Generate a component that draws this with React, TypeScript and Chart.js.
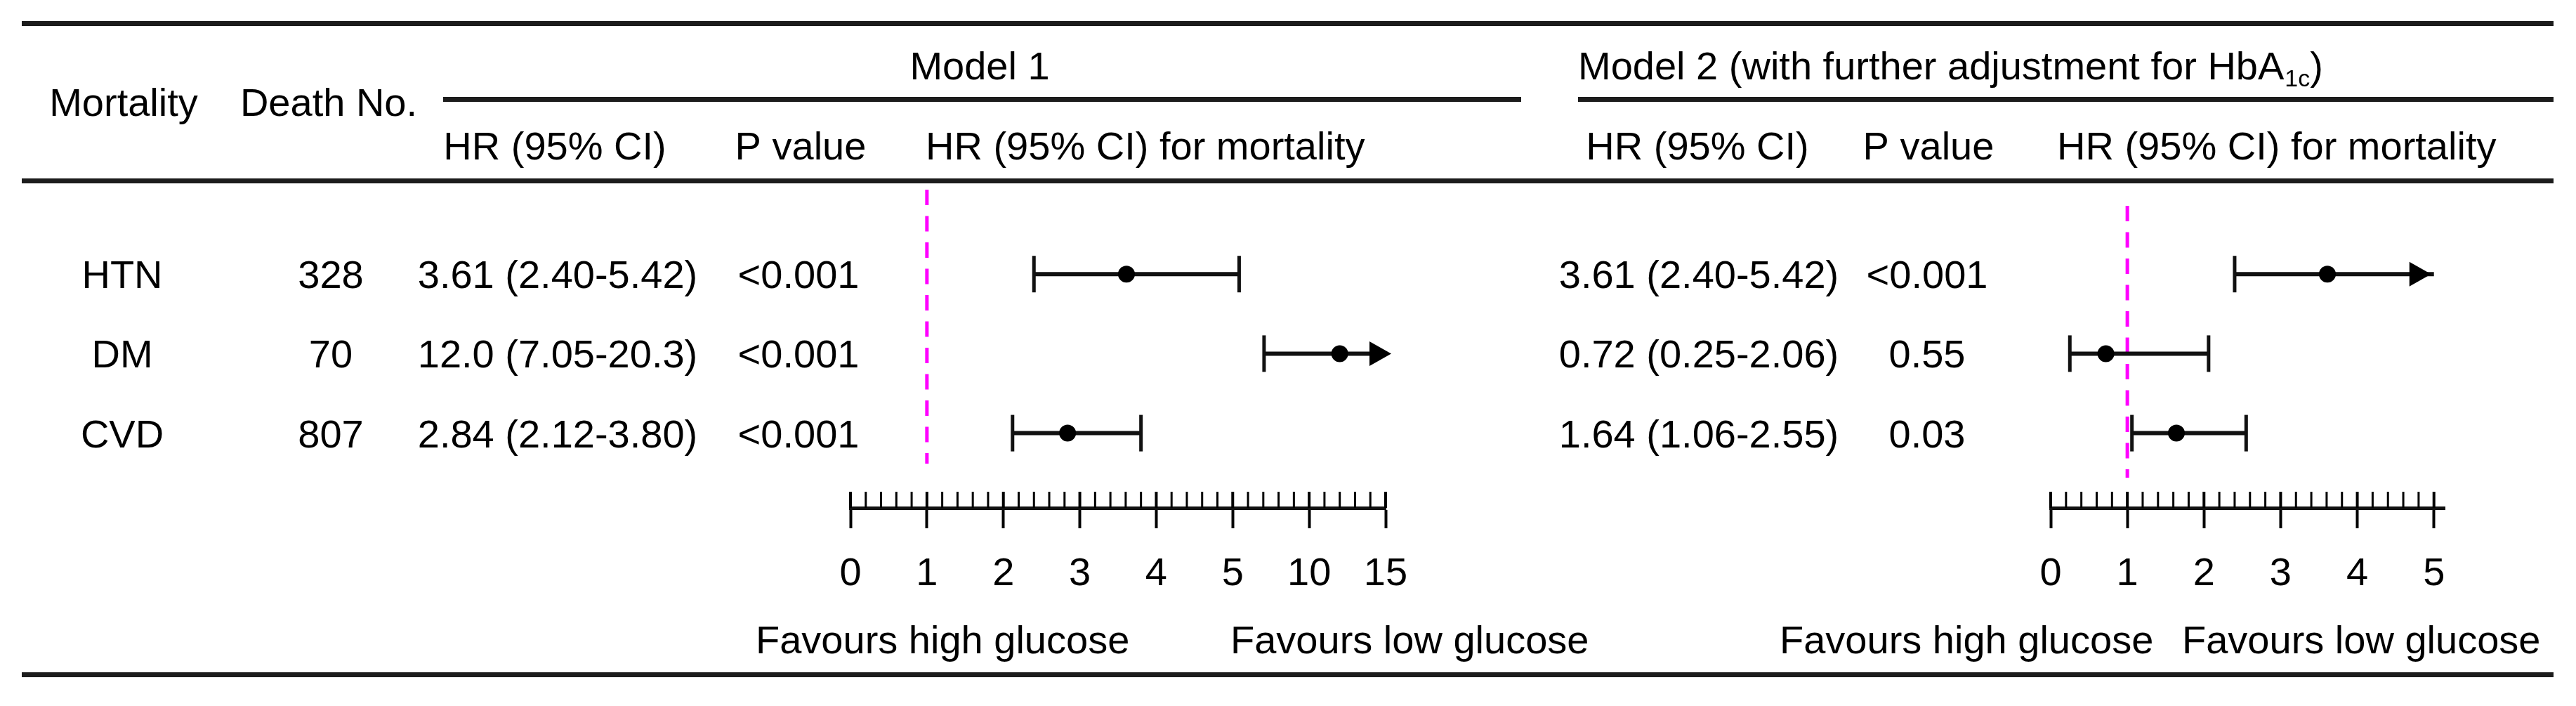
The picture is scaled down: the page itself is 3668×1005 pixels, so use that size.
import React, { useEffect, useRef } from "react";
import { Chart, registerables } from "chart.js";

Chart.register(...registerables);

// ---------------- data ----------------
const OUTCOMES = ["HTN", "DM", "CVD"];
const DEATH_NO = ["328", "70", "807"];

const M1_HR = [3.61, 12.0, 2.84];
const M1_LOW = [2.4, 7.05, 2.12];
const M1_HIGH = [5.42, 20.3, 3.8];
const M1_P = ["<0.001", "<0.001", "<0.001"];

const M2_HR = [3.61, 0.72, 1.64];
const M2_LOW = [2.4, 0.25, 1.06];
const M2_HIGH = [5.42, 2.06, 2.55];
const M2_P = ["<0.001", "0.55", "0.03"];

const M1_TICKS = [0, 1, 2, 3, 4, 5, 10, 15];
const M2_TICKS = [0, 1, 2, 3, 4, 5];
const REF_HR = 1;

// ---------------- style / layout ----------------
const FONT = '"Liberation Sans", Arial, Helvetica, sans-serif';
const FS = 56;
const INK = "#000";
const RULE = "#1c1c1c";
const W = 3668;
const H = 1005;
const AREA_TOP = 277;
const AREA_BOTTOM = 723;
const Y_MIN = -1;
const Y_MAX = 2.94;
const AXIS_H = 130;

const fmt = (v: number) => (v >= 10 ? v.toFixed(1) : v.toFixed(2));
const hrText = (hr: number, lo: number, hi: number) => `${fmt(hr)} (${fmt(lo)}-${fmt(hi)})`;

// map an HR value onto the equally spaced tick index axis
function toAxis(v: number, ticks: number[]) {
  const n = ticks.length - 1;
  if (v >= ticks[n]) return n;
  for (let i = 0; i < n; i++) {
    if (v <= ticks[i + 1]) return i + (v - ticks[i]) / (ticks[i + 1] - ticks[i]);
  }
  return n;
}

type ForestParams = {
  hr: number[];
  lo: number[];
  hi: number[];
  ticks: number[];
  padLeft: number;
  padRight: number;
  xMax: number;
  refTop: number;
  refBottom: number;
  tipOffset: number;
};

function forestConfig(p: ForestParams): any {
  const last = p.ticks.length - 1;
  const rows = p.hr.map((_, i) => i);
  const points = rows.map((i) => ({ x: toAxis(p.hr[i], p.ticks), y: i }));
  const caps: { x: number; y: number }[] = [];
  rows.forEach((i) => {
    caps.push({ x: toAxis(p.lo[i], p.ticks), y: i });
    if (p.hi[i] <= p.ticks[last]) caps.push({ x: toAxis(p.hi[i], p.ticks), y: i });
  });
  const lineSets = rows.map((i) => ({
    data: [
      { x: toAxis(p.lo[i], p.ticks), y: i },
      { x: toAxis(p.hi[i], p.ticks), y: i },
    ],
    showLine: true,
    borderColor: "#111",
    borderWidth: 6,
    pointRadius: 0,
    pointHoverRadius: 0,
    clip: false,
  }));

  const decor = {
    id: "forestDecor",
    beforeDatasetsDraw(chart: any) {
      const { ctx, chartArea } = chart;
      const xs = chart.scales.x;
      const x = xs.getPixelForValue(toAxis(REF_HR, p.ticks));
      ctx.save();
      ctx.strokeStyle = "#FF00FF";
      ctx.lineWidth = 5;
      ctx.setLineDash([22, 15.5]);
      ctx.beginPath();
      ctx.moveTo(x, chartArea.top + p.refTop);
      ctx.lineTo(x, chartArea.bottom + p.refBottom);
      ctx.stroke();
      ctx.restore();
    },
    afterDraw(chart: any) {
      const { ctx, chartArea } = chart;
      const xs = chart.scales.x;
      const ys = chart.scales.y;
      const y0 = chartArea.bottom;
      ctx.save();
      ctx.strokeStyle = INK;
      for (let k = 0; k <= last * 5; k++) {
        const x = xs.getPixelForValue(k / 5);
        ctx.lineWidth = k % 5 === 0 ? 4 : 3;
        ctx.beginPath();
        ctx.moveTo(x, y0);
        ctx.lineTo(x, y0 - 23);
        ctx.stroke();
      }
      // arrows for intervals running beyond the axis
      ctx.fillStyle = INK;
      rows.forEach((i) => {
        if (p.hi[i] > p.ticks[last]) {
          const tip = xs.getPixelForValue(last) + p.tipOffset;
          const y = ys.getPixelForValue(i);
          ctx.beginPath();
          ctx.moveTo(tip, y);
          ctx.lineTo(tip - 31, y - 17.5);
          ctx.lineTo(tip - 31, y + 17.5);
          ctx.closePath();
          ctx.fill();
        }
      });
      ctx.restore();
    },
  };

  return {
    type: "scatter",
    data: {
      datasets: [
        {
          data: points,
          pointStyle: "circle",
          pointRadius: 12,
          pointHoverRadius: 12,
          pointBackgroundColor: INK,
          pointBorderColor: INK,
          pointBorderWidth: 0,
          clip: false,
        },
        {
          data: caps,
          pointStyle: "line",
          pointRotation: 90,
          pointRadius: 26,
          pointHoverRadius: 26,
          pointBorderColor: "#111",
          pointBorderWidth: 5,
          clip: false,
        },
        ...lineSets,
      ],
    },
    options: {
      responsive: false,
      animation: false,
      devicePixelRatio: 1,
      events: [],
      layout: {
        padding: {
          left: p.padLeft,
          right: p.padRight,
          top: AREA_TOP,
          bottom: H - AREA_BOTTOM - AXIS_H,
        },
      },
      plugins: { legend: { display: false }, tooltip: { enabled: false } },
      scales: {
        x: {
          type: "linear",
          position: "bottom",
          min: 0,
          max: p.xMax,
          afterFit: (s: any) => {
            s.height = AXIS_H;
          },
          grid: {
            display: true,
            drawOnChartArea: false,
            drawTicks: true,
            tickLength: 29,
            tickWidth: 4,
            tickColor: INK,
            color: INK,
          },
          border: { display: true, color: "#111", width: 5 },
          ticks: {
            stepSize: 1,
            includeBounds: false,
            autoSkip: false,
            maxRotation: 0,
            minRotation: 0,
            padding: 32,
            color: INK,
            font: { family: FONT, size: FS },
            callback: (v: number) => {
              const r = Math.round(v);
              return Math.abs(v - r) < 1e-6 && p.ticks[r] !== undefined ? String(p.ticks[r]) : "";
            },
          },
        },
        y: { type: "linear", display: false, reverse: true, min: Y_MIN, max: Y_MAX },
      },
    },
    plugins: [decor],
  };
}

function tableConfig(): any {
  const table = {
    id: "tableText",
    afterDraw(chart: any) {
      const { ctx } = chart;
      const ys = chart.scales.y;
      const text = (s: string, x: number, y: number, align: CanvasTextAlign = "center", size = FS) => {
        ctx.font = `${size}px ${FONT}`;
        ctx.textAlign = align;
        ctx.textBaseline = "alphabetic";
        ctx.fillText(s, x, y);
        return ctx.measureText(s).width;
      };
      ctx.save();
      // rules
      ctx.fillStyle = RULE;
      ctx.fillRect(31, 30, 3605, 7);
      ctx.fillRect(631, 138, 1535, 7);
      ctx.fillRect(2247, 138, 1389, 7);
      ctx.fillRect(31, 254, 3605, 7);
      ctx.fillRect(31, 957, 3605, 7);

      ctx.fillStyle = INK;
      // header
      text("Mortality", 176, 165);
      text("Death No.", 468, 165);
      text("Model 1", 1395, 113);
      let x = 2247;
      x += text("Model 2 (with further adjustment for HbA", x, 113, "left");
      x += text("1c", x + 1, 123, "left", 34) + 1;
      text(")", x, 113, "left");
      text("HR (95% CI)", 790, 227);
      text("P value", 1140, 227);
      text("HR (95% CI) for mortality", 1318, 227, "left");
      text("HR (95% CI)", 2417, 227);
      text("P value", 2746, 227);
      text("HR (95% CI) for mortality", 2929, 227, "left");

      // rows
      OUTCOMES.forEach((name, i) => {
        const y = ys.getPixelForValue(i) + 20;
        text(name, 174, y);
        text(DEATH_NO[i], 471, y);
        text(hrText(M1_HR[i], M1_LOW[i], M1_HIGH[i]), 794, y);
        text(M1_P[i], 1137, y);
        text(hrText(M2_HR[i], M2_LOW[i], M2_HIGH[i]), 2419, y);
        text(M2_P[i], 2744, y);
      });

      // favours labels
      text("Favours high glucose", 1076, 930, "left");
      text("Favours low glucose", 1752, 930, "left");
      text("Favours high glucose", 2534, 930, "left");
      text("Favours low glucose", 3107, 930, "left");
      ctx.restore();
    },
  };
  return {
    type: "scatter",
    data: { datasets: [] },
    options: {
      responsive: false,
      animation: false,
      devicePixelRatio: 1,
      events: [],
      layout: { padding: { left: 0, right: 0, top: AREA_TOP, bottom: H - AREA_BOTTOM } },
      plugins: { legend: { display: false }, tooltip: { enabled: false } },
      scales: {
        x: { type: "linear", display: false, min: 0, max: 1 },
        y: { type: "linear", display: false, reverse: true, min: Y_MIN, max: Y_MAX },
      },
    },
    plugins: [table],
  };
}

export default function App() {
  const bgRef = useRef<HTMLCanvasElement | null>(null);
  const m1Ref = useRef<HTMLCanvasElement | null>(null);
  const m2Ref = useRef<HTMLCanvasElement | null>(null);

  useEffect(() => {
    document.body.style.margin = "0";
    document.body.style.overflow = "hidden";
    const charts: Chart[] = [];
    if (bgRef.current) charts.push(new Chart(bgRef.current, tableConfig()));
    if (m1Ref.current)
      charts.push(
        new Chart(
          m1Ref.current,
          forestConfig({
            hr: M1_HR,
            lo: M1_LOW,
            hi: M1_HIGH,
            ticks: M1_TICKS,
            padLeft: 111,
            padRight: 127,
            xMax: M1_TICKS.length - 1,
            refTop: -7,
            refBottom: -63,
            tipOffset: 8,
          })
        )
      );
    if (m2Ref.current)
      charts.push(
        new Chart(
          m2Ref.current,
          forestConfig({
            hr: M2_HR,
            lo: M2_LOW,
            hi: M2_HIGH,
            ticks: M2_TICKS,
            padLeft: 120,
            padRight: 187,
            xMax: M2_TICKS.length - 1 + 0.14,
            refTop: 16,
            refBottom: -43,
            tipOffset: -4,
          })
        )
      );
    return () => charts.forEach((c) => c.destroy());
  }, []);

  return (
    <div style={{ position: "relative", width: W, height: H, background: "#fff", overflow: "hidden" }}>
      <canvas ref={bgRef} width={W} height={H} style={{ position: "absolute", left: 0, top: 0 }} />
      <canvas ref={m1Ref} width={1000} height={H} style={{ position: "absolute", left: 1100, top: 0 }} />
      <canvas ref={m2Ref} width={868} height={H} style={{ position: "absolute", left: 2800, top: 0 }} />
    </div>
  );
}
